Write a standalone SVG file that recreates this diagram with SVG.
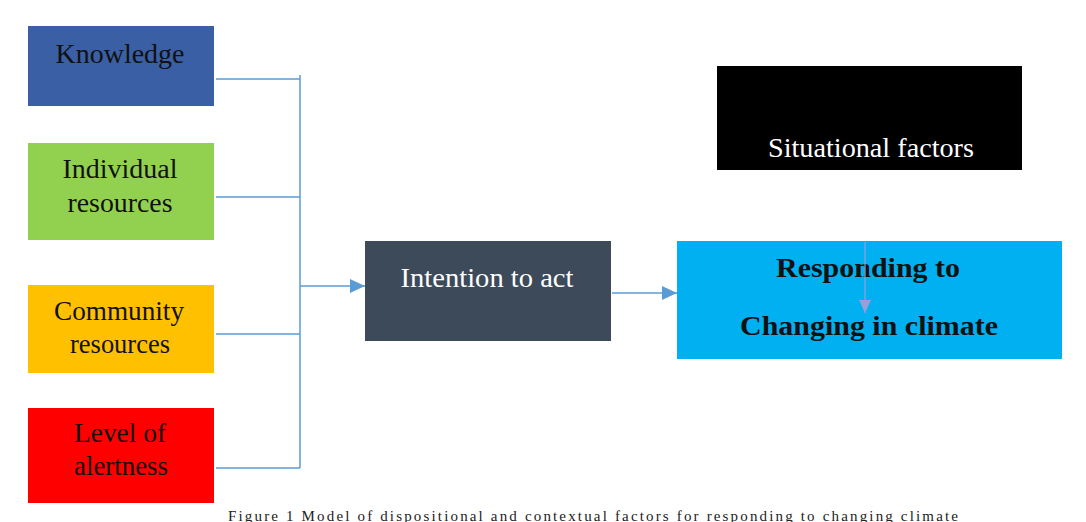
<svg xmlns="http://www.w3.org/2000/svg" width="1086" height="522" viewBox="0 0 1086 522">
<style>
.t{font-family:"Liberation Serif","Times New Roman",serif;font-size:28px;text-anchor:middle}
.d{fill:#111}
.w{fill:#fff}
.b{font-weight:bold}
.c{fill:none;stroke:#5B9BD5;stroke-width:1.5}
</style>
<defs>
<marker id="ah" markerWidth="15" markerHeight="14" refX="15" refY="7" orient="auto" markerUnits="userSpaceOnUse" viewBox="0 0 15 14">
<path d="M0,0 L15,7 L0,14 z" fill="#5B9BD5"/>
</marker>
<marker id="ah2" markerWidth="13" markerHeight="12" refX="13" refY="6" orient="auto" markerUnits="userSpaceOnUse" viewBox="0 0 13 12">
<path d="M0,0 L13,6 L0,12 z" fill="#979FD8"/>
</marker>
</defs>
<rect width="1086" height="522" fill="#fff"/>
<g id="knowledge">
<rect x="28" y="26" width="186" height="80" fill="#3A5FA5"/>
<text class="t d" x="120" y="63" textLength="129" lengthAdjust="spacingAndGlyphs">Knowledge</text>
</g>
<g id="individual">
<rect x="28" y="143" width="186" height="97" fill="#92D050"/>
<text class="t d" x="120" y="178" textLength="115" lengthAdjust="spacingAndGlyphs">Individual</text>
<text class="t d" x="120" y="212" textLength="105" lengthAdjust="spacingAndGlyphs">resources</text>
</g>
<g id="community">
<rect x="28" y="285" width="186" height="88" fill="#FFC000"/>
<text class="t d" x="119" y="320" textLength="130" lengthAdjust="spacingAndGlyphs">Community</text>
<text class="t d" x="120" y="353" textLength="100" lengthAdjust="spacingAndGlyphs">resources</text>
</g>
<g id="alertness">
<rect x="28" y="408" width="186" height="95" fill="#FF0000"/>
<text class="t d" x="120" y="442" textLength="92" lengthAdjust="spacingAndGlyphs">Level of</text>
<text class="t d" x="121" y="475" textLength="94" lengthAdjust="spacingAndGlyphs">alertness</text>
</g>
<g id="intention">
<rect x="365" y="241" width="246" height="100" fill="#3D4A5A"/>
<text class="t w" x="487" y="287" textLength="173" lengthAdjust="spacingAndGlyphs">Intention to act</text>
</g>
<g id="situational">
<rect x="717" y="66" width="305" height="104" fill="#000"/>
<text class="t w" x="871" y="157" textLength="206" lengthAdjust="spacingAndGlyphs">Situational factors</text>
</g>
<g id="responding">
<rect x="677" y="241" width="385" height="118" fill="#00B0F0"/>
<text class="t d b" x="868" y="277" textLength="184" lengthAdjust="spacingAndGlyphs">Responding to</text>
<text class="t d b" x="869" y="335" textLength="258" lengthAdjust="spacingAndGlyphs">Changing in climate</text>
</g>
<g id="connectors">
<path class="c" d="M216,79 H300 M216,197 H300 M216,334 H300 M216,468 H300 M300,75 V468"/>
<path class="c" d="M300,286 H365" marker-end="url(#ah)"/>
<path class="c" d="M612,293 H677" marker-end="url(#ah)"/>
<path d="M865,242 V313" fill="none" stroke="#979FD8" stroke-width="1.2" marker-end="url(#ah2)"/>
</g>
<text class="t" x="593" y="521" style="font-size:15px;fill:#222" textLength="730" lengthAdjust="spacing">Figure 1 Model of dispositional and contextual factors for responding to changing climate</text>
</svg>
